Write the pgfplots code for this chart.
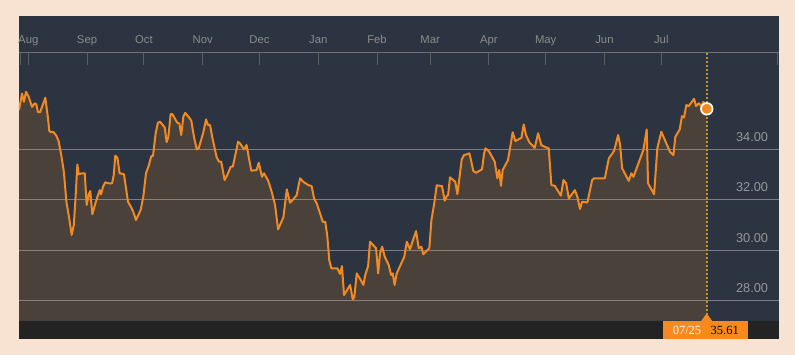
\documentclass[border=0pt]{standalone}
\usepackage{fontspec}
\setmainfont{Liberation Sans}
\newfontfamily\boxfont{Liberation Serif}
\usepackage{pgfplots}
\usepackage{pgfplotstable}
\pgfplotsset{compat=1.18}
\usetikzlibrary{patterns.meta}

\definecolor{panel}{RGB}{43,52,64}
\definecolor{strip}{RGB}{35,35,35}
\definecolor{lineorange}{RGB}{242,138,36}
\definecolor{boxorange}{RGB}{247,137,31}
\definecolor{gridc}{RGB}{122,126,133}
\definecolor{monthc}{RGB}{138,140,143}
\definecolor{ylabc}{RGB}{150,152,155}
\definecolor{topline}{RGB}{110,112,116}
\definecolor{tickc}{RGB}{90,95,102}
\definecolor{dotline}{RGB}{196,146,40}
\definecolor{bgdots}{RGB}{228,138,66}

\pgfplotstableread{
day price
-4.9 35.56
-3.3 36.22
-2.3 35.89
-1.2 36.29
0.2 36.09
2.0 35.69
3.4 35.83
4.2 35.80
5.1 35.49
6.2 35.47
9.0 36.05
10.4 35.23
11.1 34.73
12.1 34.68
13.2 34.70
14.8 34.54
16.0 34.33
17.4 33.77
18.8 33.09
20.1 31.92
21.6 31.26
22.9 30.60
24.0 30.99
24.8 31.92
25.9 33.40
26.6 33.01
28.3 33.05
29.8 33.05
30.8 31.79
31.9 32.21
32.7 32.34
33.8 31.42
35.4 31.85
36.8 32.18
37.7 32.38
38.4 32.21
39.4 32.51
40.6 32.69
42.4 32.65
44.2 32.65
45.1 32.98
45.9 33.75
47.0 33.67
48.2 33.05
50.5 33.01
52.6 31.92
54.4 31.68
55.4 31.52
56.8 31.19
59.3 31.59
60.7 32.12
62.1 33.05
63.5 33.34
64.9 33.73
65.8 33.73
67.2 34.64
68.4 35.06
69.5 35.10
72.0 34.87
73.0 34.29
73.9 34.50
75.1 35.40
76.0 35.40
78.6 35.06
79.7 35.03
80.7 34.57
81.8 35.30
82.8 35.45
84.8 35.27
86.0 35.14
87.4 34.50
88.9 34.00
89.9 34.04
92.3 34.66
93.8 35.19
94.8 34.97
95.9 34.97
97.3 34.40
99.4 33.68
100.6 33.51
101.8 33.51
103.6 32.78
105.0 32.98
106.8 33.31
107.9 33.31
110.7 34.30
111.7 34.24
113.8 34.00
115.2 34.17
116.6 33.57
117.7 33.15
120.5 33.18
121.6 33.47
123.3 32.91
124.4 33.05
126.6 32.75
128.4 32.32
130.2 31.79
131.8 30.82
134.6 31.30
136.4 32.41
138.1 31.88
139.5 31.99
141.6 32.18
143.4 32.85
145.1 32.71
147.8 32.58
149.5 32.54
150.8 32.05
152.2 31.85
155.4 31.12
156.7 31.12
157.8 30.53
158.8 29.60
159.9 29.27
163.1 29.27
164.5 29.05
165.5 29.36
166.6 28.21
169.8 28.61
171.2 28.04
172.0 28.12
173.3 29.07
175.4 28.81
176.8 28.61
177.8 29.01
179.3 29.36
180.3 30.33
183.5 30.07
184.6 29.07
185.6 29.87
186.7 30.13
188.1 29.73
190.2 29.40
191.4 29.01
192.3 29.07
193.3 28.61
194.4 29.07
196.8 29.47
198.4 29.73
199.7 30.33
201.4 30.03
204.6 30.75
206.0 30.07
207.4 30.13
208.4 29.83
210.2 29.97
211.6 30.07
212.7 31.19
214.2 31.85
215.5 32.57
218.3 32.54
219.7 31.96
220.8 32.14
221.5 32.18
222.5 32.89
225.3 32.71
226.4 32.22
228.7 33.60
229.9 33.77
232.7 33.84
233.6 33.57
234.8 33.14
236.3 33.07
239.4 33.21
240.5 33.84
241.2 34.04
243.0 33.93
246.1 33.51
247.5 32.85
248.5 33.18
249.4 32.55
250.3 33.18
253.1 33.57
255.6 34.68
257.0 34.33
260.2 34.46
261.4 34.99
262.6 34.57
264.4 34.28
267.2 34.06
269.0 34.64
270.7 34.17
272.5 34.10
274.6 34.04
276.0 32.58
277.8 32.55
281.0 32.16
282.4 32.78
283.8 32.65
285.2 32.05
288.4 32.38
289.7 32.12
291.1 31.63
292.2 31.92
295.0 31.89
297.5 32.78
298.5 32.85
301.3 32.85
304.2 32.85
306.3 33.64
309.1 33.94
311.2 34.57
312.3 34.17
313.3 33.25
316.8 32.75
318.2 33.05
319.3 32.91
324.5 33.97
326.3 34.79
327.0 32.65
330.2 32.22
331.9 34.04
334.0 34.70
338.6 33.90
340.4 33.77
341.4 34.50
343.7 34.79
344.9 35.32
346.0 35.27
347.2 35.76
348.5 35.72
351.3 36.01
352.3 35.72
353.8 35.83
355.1 35.72
356.2 35.89
358.0 35.61
}\pricedata

\begin{document}
\begin{tikzpicture}
\path[use as bounding box] (0pt,0pt) rectangle (795pt,354pt);
\fill[white] (0pt,0pt) rectangle (795pt,354pt);
\fill[pattern={Dots[distance=2pt,radius=0.62pt]}, pattern color=bgdots] (0pt,0pt) rectangle (795pt,354pt);
% panel
\fill[panel] (19pt,15pt) rectangle (779pt,338pt);
\begin{axis}[
  at={(19pt,33.3pt)}, anchor=south west,
  scale only axis, width=760pt, height=267.7pt,
  xmin=-4.9, xmax=396.1, ymin=27.19, ymax=37.83,
  axis x line*=top, axis y line*=right,
  x axis line style={draw=topline, line width=1pt, -},
  y axis line style={draw=none},
  xtick={0,31,61,92,122,153,184,212,243,273,304,334},
  xticklabels={Aug,Sep,Oct,Nov,Dec,Jan,Feb,Mar,Apr,May,Jun,Jul},
  extra x ticks={-4.1,395.4}, extra x tick labels={},
  tick align=inside, major tick length=12pt,
  xtick style={draw=tickc, line width=1pt},
  extra x tick style={xtick style={draw=tickc, line width=1pt}},
  xticklabel style={font=\fontsize{11.3}{11.3}\selectfont, text=monthc, anchor=base, inner sep=0pt, yshift=9.5pt},
  ytick={28,30,32,34},
  yticklabels={28.00,30.00,32.00,34.00},
  ytick style={draw=none},
  yticklabel style={font=\fontsize{12.8}{12.8}\selectfont, text=ylabc, anchor=base east, inner sep=0pt, xshift=-10.7pt, yshift=8pt},
  ymajorgrids, grid style={draw=gridc, line width=0.9pt},
  clip=true,
]
\addplot[draw=none, fill=lineorange, fill opacity=0.16] table[x=day,y=price] {\pricedata} \closedcycle;
\addplot[color=lineorange, line width=2pt, line join=round] table[x=day,y=price] {\pricedata};
\draw[dotline, line width=1.6pt, dash pattern=on 2pt off 2pt] (axis cs:358,37.83) -- (axis cs:358,27.19);
\addplot[only marks, mark=*, mark size=5.8pt, mark options={fill=lineorange, draw=white, line width=1.7pt}] coordinates {(358,35.61)};
\end{axis}
% bottom strip
\fill[strip] (19pt,15pt) rectangle (779pt,33.3pt);
\fill[boxorange] (663.3pt,15pt) rectangle (747.7pt,33.3pt);
\fill[boxorange] (701.2pt,33pt) -- (706.7pt,40.7pt) -- (712.2pt,33pt) -- cycle;
\node[anchor=base, inner sep=0pt, text=white, font=\boxfont\fontsize{12.5}{12.5}\selectfont] at (687pt,19.3pt) {07/25};
\node[anchor=base, inner sep=0pt, text=black, font=\boxfont\fontsize{12.5}{12.5}\selectfont] at (724.7pt,19.3pt) {35.61};
\end{tikzpicture}
\end{document}
